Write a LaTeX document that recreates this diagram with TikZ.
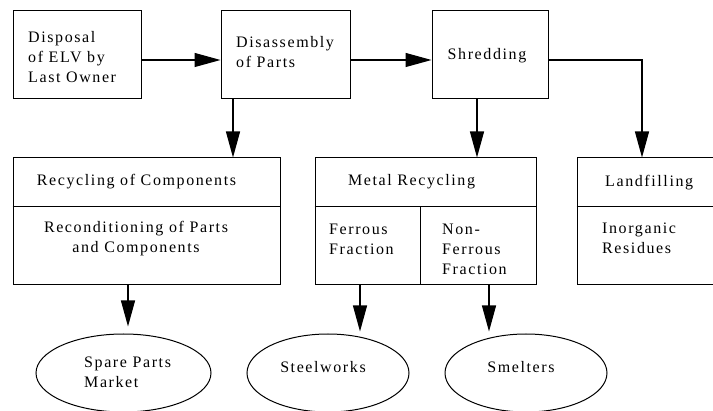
\documentclass[tikz,border=0pt]{standalone}
\usepackage{fontspec}
\setmainfont{Liberation Serif}[LetterSpace=10]
\usetikzlibrary{arrows.meta,shapes.geometric}

\begin{document}
\begin{tikzpicture}[x=1pt,y=-1pt,
  box/.style={draw,line width=1pt,inner sep=0pt},
  lbl/.style={font=\fontsize{16}{20}\selectfont,inner sep=0pt,align=left},
  flow/.style={line width=1.2pt,-{Triangle[length=26pt,width=14pt]}},
  oval/.style={ellipse,draw,line width=1pt,inner sep=0pt}]
\useasboundingbox (0,0) rectangle (713,411);
\clip (0,0) rectangle (713,411);

% process boxes, top row
\node[box,minimum width=128pt,minimum height=88pt] (disp) at (77,55) {};
\node[box,minimum width=129pt,minimum height=88pt] (dis) at (285.5,55) {};
\node[box,minimum width=116pt,minimum height=88pt] (shr) at (490,55) {};

% treatment boxes, second row
\node[box,minimum width=267pt,minimum height=127pt] (rec) at (146.5,221.5) {};
\node[box,minimum width=221pt,minimum height=127pt] (met) at (425.5,221.5) {};
\node[box,minimum width=150pt,minimum height=127pt] (lan) at (652,221.5) {};

% header dividers and the ferrous / non-ferrous split
\coordinate (hdr) at (0,207);
\draw[line width=1pt] (rec.west |- hdr) -- (rec.east |- hdr);
\draw[line width=1pt] (met.west |- hdr) -- (met.east |- hdr);
\draw[line width=1pt] (lan.west |- hdr) -- (lan.east |- hdr);
\coordinate (fdiv) at (420,207);
\draw[line width=1pt] (fdiv) -- (fdiv |- met.south);

% destinations
\node[oval,minimum width=175pt,minimum height=78pt] (spare) at (123.5,373) {};
\node[oval,minimum width=162pt,minimum height=78pt] (steel) at (328,373) {};
\node[oval,minimum width=162pt,minimum height=78pt] (smelt) at (526,373) {};

% labels
\node[lbl,anchor=west] (tdisp) at (28,57) {Disposal\\of ELV by\\Last Owner};
\node[lbl,anchor=west] (tdis) at (236,52) {Disassembly\\of Parts};
\node[lbl] (tshr) at (487,56) {Shredding};
\node[lbl] (trec) at (136.5,182) {Recycling of Components};
\node[lbl,align=center] (trec2) at (136,238.5) {Reconditioning of Parts\\and Components};
\node[lbl] (tmet) at (411.5,182) {Metal Recycling};
\node[lbl,anchor=west] (tfer) at (329,239) {Ferrous\\Fraction};
\node[lbl,anchor=west] (tnon) at (442,249) {Non-\\Ferrous\\Fraction};
\node[lbl,anchor=west] (tlan) at (605,183) {Landfilling};
\node[lbl,anchor=west] (tinorg) at (602,238.5) {Inorganic\\Residues};
\node[lbl,anchor=west] (tspare) at (84,372.5) {Spare Parts\\Market};
\node[lbl] (tsteel) at (323,367) {Steelworks};
\node[lbl] (tsmelt) at (521,367) {Smelters};

% material flow
\coordinate (row1) at (0,60);
\draw[flow] (disp.east |- row1) -- (dis.west |- row1);
\draw[flow] (dis.east |- row1) -- (shr.west |- row1);
\coordinate (lcorner) at (642,60);
\draw[flow] (shr.east |- row1) -- (lcorner) -- (lcorner |- lan.north);
\coordinate (dcol) at (233,0);
\draw[flow] (dcol |- dis.south) -- (dcol |- rec.north);
\coordinate (scol) at (477,0);
\draw[flow] (scol |- shr.south) -- (scol |- met.north);
\coordinate (rcol) at (128,0);
\draw[flow,shorten >=7pt] (rcol |- rec.south) -- (rcol |- spare.north);
\coordinate (fcol) at (360,0);
\draw[flow,shorten >=2pt] (fcol |- met.south) -- (fcol |- steel.north);
\coordinate (ncol) at (489,0);
\draw[flow,shorten >=2pt] (ncol |- met.south) -- (ncol |- smelt.north);
\end{tikzpicture}
\end{document}
